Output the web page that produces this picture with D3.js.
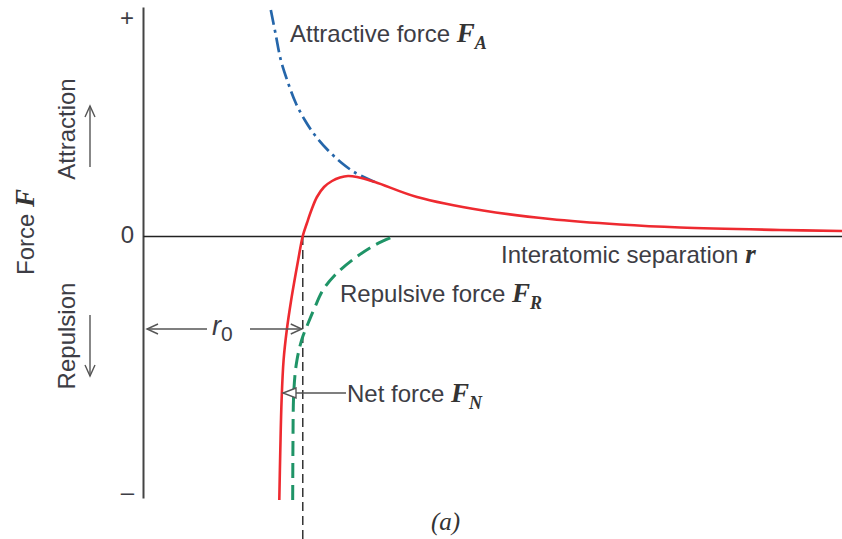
<!DOCTYPE html>
<html><head><meta charset="utf-8">
<script src="https://cdn.jsdelivr.net/npm/d3@7"></script>
<style>body{margin:0;background:#fff} svg{display:block}</style>
</head><body><svg id="c" width="842" height="539"></svg>
<script>
// ---- data (separation r, force F; arbitrary units) ----
const netR = [1.365,1.375,1.388,1.408,1.440,1.484,1.518,1.554,1.600,1.642,1.687,1.742,1.813,1.893,1.973,2.053,2.143,2.323,2.744,3.405,4.076,4.777,5.378,6.379,7.0];
const netF = [-26.4,-21.4,-16.4,-12.4,-9.4,-6.4,-4.4,-2.4,0,1.3,2.6,3.9,4.9,5.5,5.85,6.0,5.9,5.4,3.9,2.55,1.7,1.15,0.85,0.6,0.5];
const attR = [1.28,1.33,1.38,1.45,1.53,1.62,1.72,1.85,1.99,2.13,2.32];
const attF = [22.6,20.1,17.6,15.4,13.3,11.6,10.1,8.6,7.3,6.3,5.4];
const repR = [1.499,1.502,1.507,1.522,1.542,1.572,1.602,1.642,1.722,1.803,1.923,2.123,2.323,2.524];
const repF = [-26.4,-20.4,-16.4,-13.9,-12.4,-11.0,-10.0,-9.0,-7.1,-5.4,-3.9,-2.2,-0.9,0];
const r0 = 1.60;
const yTickValues = [21.8, 0, -25.6];
const yTickLabels = ["+", "0", "\u2013"];
const rDomain = [0, 7];
const fDomain = [-26.2, 22.9];

const W = 842, H = 539;
const svg = d3.select("#c");
const x = d3.scaleLinear().domain(rDomain).range([143, 842]);
const y = d3.scaleLinear().domain(fDomain).range([498, 7]);

const SANS = "'Liberation Sans', Arial, Helvetica, sans-serif";
const SERIF = "'Liberation Serif', 'Times New Roman', serif";
const TXT = "#3d3d45";
const ARW = "#555";

// axes
const yAxis = d3.axisLeft(y).tickValues(yTickValues).tickSize(0).tickPadding(9)
  .tickFormat((d,i) => yTickLabels[i]);
const gy = svg.append("g").attr("transform", `translate(${x(0)},0)`).call(yAxis);
gy.select(".domain").attr("stroke", "#444").attr("stroke-width", 2);
gy.selectAll("text").attr("font-family", SANS).attr("font-size", 24).attr("fill", TXT)
  .attr("dy", (d,i) => i === 1 ? "0.27em" : "0.32em");

const xAxis = d3.axisBottom(x).tickValues([]).tickSizeOuter(0);
const gx = svg.append("g").attr("transform", `translate(0,${y(0)})`).call(xAxis);
gx.select(".domain").attr("stroke", "#222").attr("stroke-width", 1.6);

// r0 dashed drop line
svg.append("line").attr("x1", x(r0)).attr("x2", x(r0)).attr("y1", y(0)).attr("y2", H)
  .attr("stroke", "#333").attr("stroke-width", 1.5).attr("stroke-dasharray", "9,5");

const line = d3.line().x(d => x(d[0])).y(d => y(d[1])).curve(d3.curveCatmullRom.alpha(0.5));

// repulsive (green dashed)
svg.append("path").datum(d3.zip(repR, repF)).attr("d", line)
  .attr("fill", "none").attr("stroke", "#1f9467").attr("stroke-width", 3)
  .attr("stroke-dasharray", "15,7");
// attractive (blue dash-dot)
svg.append("path").datum(d3.zip(attR, attF)).attr("d", line)
  .attr("fill", "none").attr("stroke", "#2566aa").attr("stroke-width", 2.7)
  .attr("stroke-dasharray", "15,5,3,5");
// net (red)
svg.append("path").datum(d3.zip(netR, netF)).attr("d", line)
  .attr("fill", "none").attr("stroke", "#ee2a30").attr("stroke-width", 2.6);

// arrows
function arrow(x1, y1, x2, y2, style) {
  const g = svg.append("g").attr("stroke", ARW).attr("stroke-width", 1.4).attr("fill", "none");
  g.append("line").attr("x1", x1).attr("y1", y1).attr("x2", x2).attr("y2", y2);
  const a = Math.atan2(y2 - y1, x2 - x1);
  const L = style === "tri" ? 13 : 11, w = 5;
  const bx = x2 - L * Math.cos(a), by = y2 - L * Math.sin(a);
  const px = -Math.sin(a) * w, py = Math.cos(a) * w;
  const d = style === "tri"
    ? `M${bx+px},${by+py}L${x2},${y2}L${bx-px},${by-py}Z`
    : `M${bx+px},${by+py}L${x2},${y2}L${bx-px},${by-py}`;
  g.append("path").attr("d", d).attr("fill", style === "tri" ? "#fff" : "none");
}
const rArrowF = -9.3;
arrow(207, y(rArrowF), x(0) + 4, y(rArrowF));
arrow(250, y(rArrowF), x(r0) - 1, y(rArrowF));
arrow(346, y(-15.7), 283, y(-15.7), "tri");
arrow(90, 167, 90, 106);
arrow(90, 315, 90, 376);

// labels
function label(xp, yp, main, sym, sub, opts = {}) {
  const t = svg.append("text").attr("x", xp).attr("y", yp)
    .attr("font-family", SANS).attr("font-size", opts.size || 24).attr("fill", TXT);
  if (opts.rotate) t.attr("transform", `rotate(-90,${xp},${yp})`).attr("text-anchor", "middle");
  t.append("tspan").text(main);
  if (sym) t.append("tspan").text(sym).attr("font-family", SERIF).attr("font-style", "italic")
    .attr("font-weight", "bold").attr("font-size", opts.symSize || 27).attr("fill", "#333");
  if (sub) {
    t.append("tspan").text(sub).attr("font-family", SERIF).attr("font-style", "italic")
      .attr("font-weight", "bold").attr("font-size", 18).attr("fill", "#333").attr("dy", 7);
  }
  return t;
}
label(290, 42, "Attractive force ", "F", "A");
label(501, 263, "Interatomic separation ", "r", null);
label(340, 302, "Repulsive force ", "F", "R");
label(347, 402, "Net force ", "F", "N");
label(34, 232, "Force ", "F", null, {rotate: true});
label(75, 129, "Attraction", null, null, {rotate: true});
label(75, 336, "Repulsion", null, null, {rotate: true});

// r0 label
const r0t = svg.append("text").attr("x", 212).attr("y", 335).attr("font-family", SANS)
  .attr("font-size", 27).attr("fill", TXT);
r0t.append("tspan").text("r").attr("font-style", "italic");
r0t.append("tspan").text("0").attr("font-size", 21).attr("dy", 6);

// (a)
svg.append("text").attr("x", 431).attr("y", 530).attr("font-family", SERIF)
  .attr("font-style", "italic").attr("font-size", 25).attr("fill", "#333").text("(a)");
</script></body></html>
